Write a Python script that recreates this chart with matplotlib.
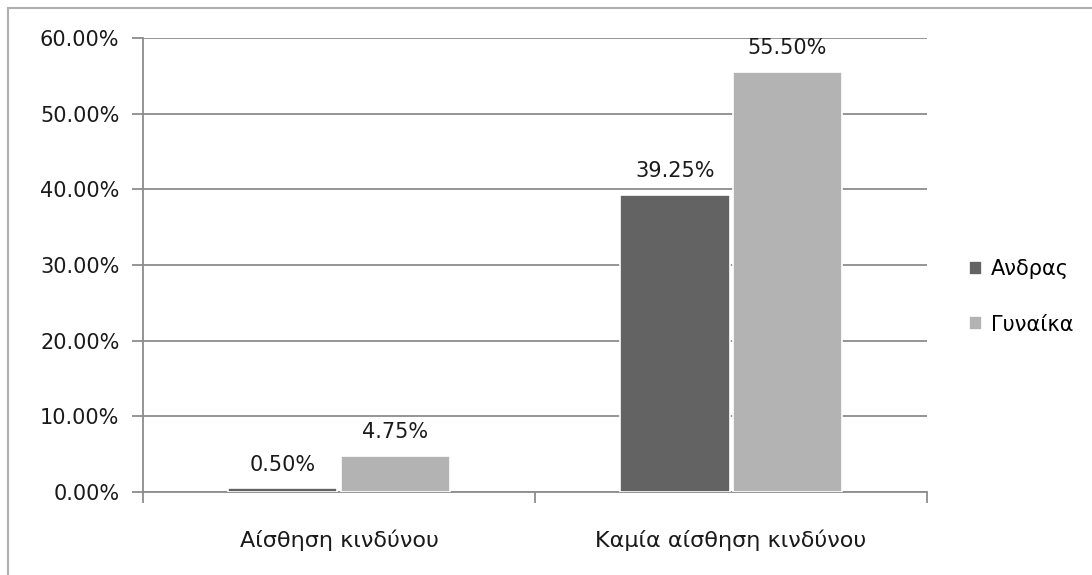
import numpy as np
import matplotlib.pyplot as plt
from matplotlib.patches import Rectangle
from matplotlib.ticker import FuncFormatter

# dane
kategorie = ['Αίσθηση κινδύνου', 'Καμία αίσθηση κινδύνου']
serie = ['Ανδρας', 'Γυναίκα']
andras = [0.50, 39.25]
gynaika = [4.75, 55.50]
kolory = ['#636363', '#b3b3b3']

plt.rcParams['font.family'] = ['DejaVu Sans']
fs = 15

fig = plt.figure(figsize=(10.92, 5.75), dpi=100)
ax = fig.add_axes([0.131, 0.1443, 0.718, 0.7897])

# ramka wokół całego rysunku (widoczna tylko góra i lewa strona)
fig.patches.append(Rectangle((8 / 1092, -0.1), 1.2, 1.1 - 8 / 575,
                             transform=fig.transFigure, fill=False,
                             edgecolor='#b0b0b0', linewidth=1.5))

x = np.arange(len(kategorie))
w = 0.28
gap = 0.004
for vals, off, name, c in [(andras, -w / 2 - gap, serie[0], kolory[0]),
                           (gynaika, w / 2 + gap, serie[1], kolory[1])]:
    bars = ax.bar(x + off, vals, width=w, color=c, label=name,
                  edgecolor='white', linewidth=1.2, zorder=3)
    for b, v in zip(bars, vals):
        ax.text(b.get_x() + b.get_width() / 2, v + 1.8, f'{v:.2f}%',
                ha='center', va='bottom', fontsize=fs, color='#1a1a1a')

ax.set_ylim(0, 60)
ax.set_xlim(-0.5, 1.5)
ax.set_yticks(np.arange(0, 61, 10))
ax.yaxis.set_major_formatter(FuncFormatter(lambda v, p: f'{v:.2f}%'))
ax.grid(axis='y', color='#8c8c8c', linewidth=1.3, zorder=0)

ax.set_xticks([-0.5, 0.5, 1.5])
ax.set_xticklabels([])
ax.set_xticks(x, minor=True)
ax.set_xticklabels(kategorie, minor=True, fontsize=16, color='#1a1a1a')
ax.tick_params(axis='x', which='major', length=8, width=1.3, color='#8c8c8c', direction='out')
ax.tick_params(axis='x', which='minor', length=0, pad=27)
ax.tick_params(axis='y', length=8, width=1.3, color='#8c8c8c', labelsize=fs,
               labelcolor='#1a1a1a', pad=9)

for s in ['top', 'right']:
    ax.spines[s].set_visible(False)
for s in ['left', 'bottom']:
    ax.spines[s].set_color('#8c8c8c')
    ax.spines[s].set_linewidth(1.3)

ax.legend(loc='center left', bbox_to_anchor=(950 / 1092, 1 - 297 / 575),
          bbox_transform=fig.transFigure, frameon=False,
          fontsize=fs, handlelength=0.65, handleheight=0.65, handletextpad=0.4,
          labelspacing=1.7)

fig.savefig('out.png', dpi=100)
